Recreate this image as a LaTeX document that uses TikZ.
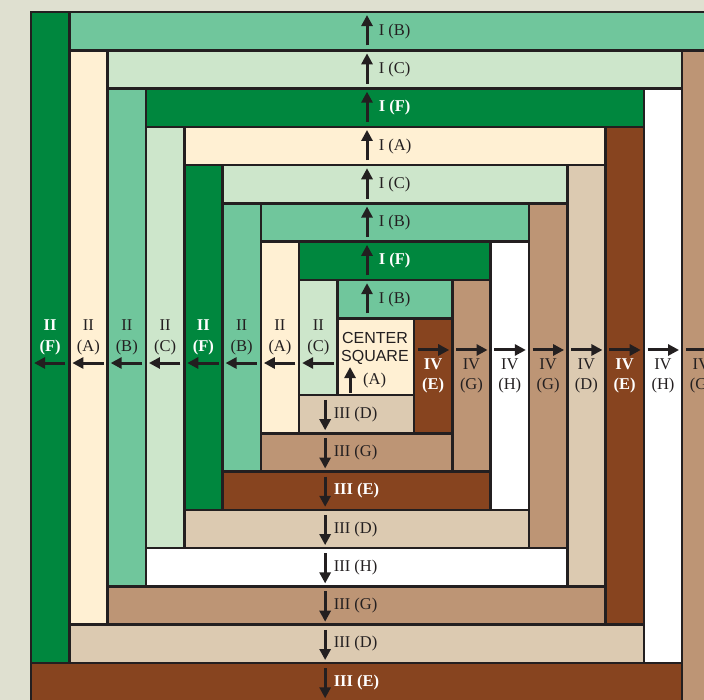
\documentclass[tikz,border=0pt]{standalone}
\usepackage{fontspec}
\setmainfont{Liberation Serif}
\setsansfont{Liberation Sans}
\usetikzlibrary{arrows.meta}
\definecolor{ink}{HTML}{231F20}
\definecolor{bg}{HTML}{DFE0D0}
\definecolor{qA}{HTML}{FFF0D3}
\definecolor{qB}{HTML}{70C69C}
\definecolor{qC}{HTML}{CDE6CB}
\definecolor{qF}{HTML}{00873E}
\definecolor{qD}{HTML}{DCCAB1}
\definecolor{qG}{HTML}{BD9575}
\definecolor{qE}{HTML}{87441F}
\definecolor{qH}{HTML}{FFFFFF}
\colorlet{tA}{ink}\colorlet{tB}{ink}\colorlet{tC}{ink}\colorlet{tD}{ink}
\colorlet{tG}{ink}\colorlet{tH}{ink}\colorlet{tE}{white}\colorlet{tF}{white}
\def\wE{\bfseries}\def\wF{\bfseries}
\tikzset{
  strip/.style={draw=ink, line width=2.6pt, line join=miter},
  lab/.style={inner sep=0pt, text=t#1, font=\fontsize{16.5}{18}\selectfont\csname w#1\endcsname},
  ctext/.style={inner sep=0pt, text=ink, font=\sffamily\fontsize{16}{18}\selectfont},
  arr/.style={line width=3pt, draw=ink, -{Triangle[length=11pt,width=11pt]}},
}
\begin{document}
\begin{tikzpicture}[x=1pt,y=1pt]
\useasboundingbox (0,0) rectangle (704,700);
\fill[bg] (0,0) rectangle (704,700);
\clip (0,0) rectangle (704,700);
\begin{scope}[shift={(375.7,343.3)}, x=38.3pt, y=38.3pt]
  % strips
  \filldraw[strip, fill=qA] (-1,-1) rectangle (1,1);
  \foreach \k/\ct/\cl/\cb/\cr in {1/B/C/D/E, 2/F/A/G/G, 3/B/B/E/H, 4/C/F/D/G,
                                   5/A/C/H/D, 6/F/B/G/E, 7/C/A/D/H, 8/B/F/E/G}{
    \pgfmathtruncatemacro\kk{\k+1}
    \filldraw[strip, fill=q\ct] (-\k,\k) rectangle (\kk,\kk);
    \filldraw[strip, fill=q\cl] (-\kk,-\k) rectangle (-\k,\kk);
    \filldraw[strip, fill=q\cb] (-\kk,-\kk) rectangle (\k,-\k);
    \filldraw[strip, fill=q\cr] (\k,-\kk) rectangle (\kk,\k);
  }
  % labels and arrows
  \foreach \k/\ct/\cl/\cb/\cr in {1/B/C/D/E, 2/F/A/G/G, 3/B/B/E/H, 4/C/F/D/G,
                                   5/A/C/H/D, 6/F/B/G/E, 7/C/A/D/H, 8/B/F/E/G}{
    % top (I)
    \coordinate (ts\k) at (-0.227,\k+0.13);
    \coordinate (te\k) at (-0.227,\k+0.92);
    \draw[arr] (ts\k) -- (te\k);
    \node[lab=\ct, anchor=west] (t\k) at (0.075,\k+0.5) {I (\ct)};
    % left (II)
    \node[lab=\cl] (la\k) at (-\k-0.5,0.83) {II};
    \node[lab=\cl] (lb\k) at (-\k-0.5,0.25) {(\cl)};
    \coordinate (ls\k) at (-\k-0.1,-0.165);
    \coordinate (le\k) at (-\k-0.92,-0.165);
    \draw[arr] (ls\k) -- (le\k);
    % bottom (III)
    \coordinate (bs\k) at (-1.32,-\k-0.13);
    \coordinate (be\k) at (-1.32,-\k-0.92);
    \draw[arr] (bs\k) -- (be\k);
    \node[lab=\cb, anchor=west] (b\k) at (-1.1,-\k-0.5) {III (\cb)};
    % right (IV)
    \coordinate (rs\k) at (\k+0.1,0.175);
    \coordinate (re\k) at (\k+0.92,0.175);
    \draw[arr] (rs\k) -- (re\k);
    \node[lab=\cr] (ra\k) at (\k+0.5,-0.19) {IV};
    \node[lab=\cr] (rb\k) at (\k+0.5,-0.74) {(\cr)};
  }
  % centre square
  \node[ctext] (cen1) at (-0.02,0.49) {CENTER};
  \node[ctext] (cen2) at (-0.02,-0.03) {SQUARE};
  \node[lab=A] (cen3) at (-0.03,-0.63) {(A)};
  \coordinate (cs) at (-0.67,-0.95);
  \coordinate (ce) at (-0.67,-0.27);
  \draw[arr] (cs) -- (ce);
\end{scope}
\end{tikzpicture}
\end{document}
